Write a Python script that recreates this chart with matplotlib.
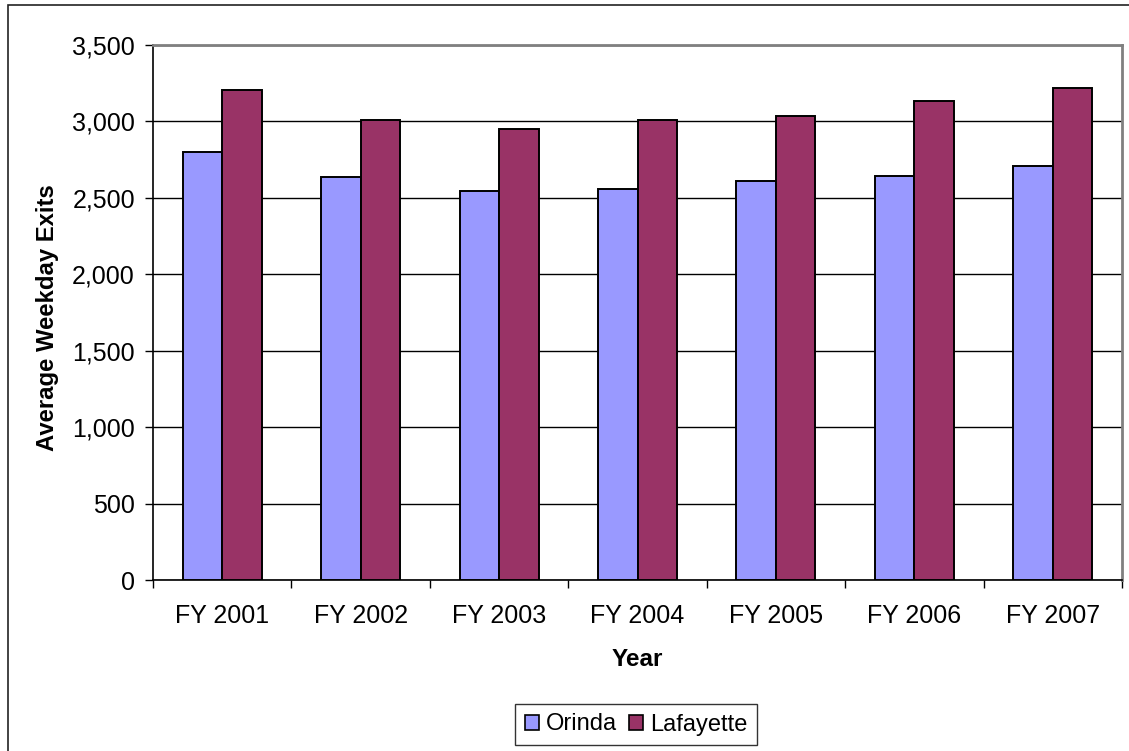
import numpy as np
import matplotlib
matplotlib.use("Agg")
import matplotlib.pyplot as plt
from matplotlib.patches import Rectangle, Patch
from matplotlib.ticker import FuncFormatter, FixedLocator

plt.rcParams['font.family'] = ['Liberation Sans', 'DejaVu Sans']

years = ["FY 2001", "FY 2002", "FY 2003", "FY 2004", "FY 2005", "FY 2006", "FY 2007"]
orinda = [2800, 2635, 2548, 2559, 2609, 2646, 2707]
lafayette = [3205, 3011, 2950, 3011, 3035, 3133, 3218]
series_names = ["Orinda", "Lafayette"]
series_colors = ["#9999FF", "#993366"]
y_ticks = [0, 500, 1000, 1500, 2000, 2500, 3000, 3500]

W, H = 1129, 751
fig = plt.figure(figsize=(W / 100, H / 100), dpi=100)
ax = fig.add_axes([153 / W, 1 - 580 / H, (1122 - 153) / W, (580 - 45) / H])

x = np.arange(len(years))
bw = 1 / 3.5
ax.bar(x - bw / 2, orinda, width=bw, color=series_colors[0], edgecolor='black',
       linewidth=1.4, zorder=3)
ax.bar(x + bw / 2, lafayette, width=bw, color=series_colors[1], edgecolor='black',
       linewidth=1.4, zorder=3)

ax.set_xlim(-0.5, len(years) - 0.5)
ax.set_ylim(0, 3500)
ax.set_yticks(y_ticks)
ax.yaxis.set_major_formatter(FuncFormatter(lambda v, p: f"{int(v):,}"))
ax.yaxis.grid(True, color='black', linewidth=1.0, zorder=0)
ax.set_axisbelow(True)

# category boundaries carry the tick marks, centres carry the labels
ax.xaxis.set_major_locator(FixedLocator(np.arange(len(years) + 1) - 0.5))
ax.xaxis.set_minor_locator(FixedLocator(x))
ax.set_xticklabels([], minor=False)
ax.set_xticklabels(years, minor=True)
ax.tick_params(axis='x', which='major', direction='out', length=6, width=1, color='black')
ax.tick_params(axis='x', which='minor', length=0, pad=17.5, labelsize=18)
ax.tick_params(axis='y', direction='out', length=6, width=1, color='black',
               pad=7, labelsize=18)

for side in ['left', 'bottom']:
    ax.spines[side].set_color('black')
    ax.spines[side].set_linewidth(1.2)
for side in ['top', 'right']:
    ax.spines[side].set_color('#808080')
    ax.spines[side].set_linewidth(2.0)

fig.text(637.5 / W, 1 - 659 / H, "Year", ha='center', va='center',
         fontsize=17.5, fontweight='bold')
fig.text(48 / W, 1 - 317.5 / H, "Average Weekday Exits", ha='center', va='center',
         rotation=90, fontsize=17.2, fontweight='bold')

handles = [Patch(facecolor=c, edgecolor='black', linewidth=1.2) for c in series_colors]
leg = fig.legend(handles, series_names, loc='center', bbox_to_anchor=(636 / W, 1 - 724.5 / H),
                 ncol=2, fontsize=17, frameon=True, fancybox=False, shadow=False,
                 handlelength=0.6, handleheight=0.6, handletextpad=0.3,
                 columnspacing=0.5, borderpad=0.4, borderaxespad=0)
leg.get_frame().set_edgecolor('black')
leg.get_frame().set_linewidth(1.0)

# outer chart border
fig.patches.append(Rectangle((8 / W, -0.05), 1.2, 1 - 5 / H + 0.05, transform=fig.transFigure,
                             fill=False, edgecolor='#222222', linewidth=1.2))

fig.savefig("out.png", dpi=100)
